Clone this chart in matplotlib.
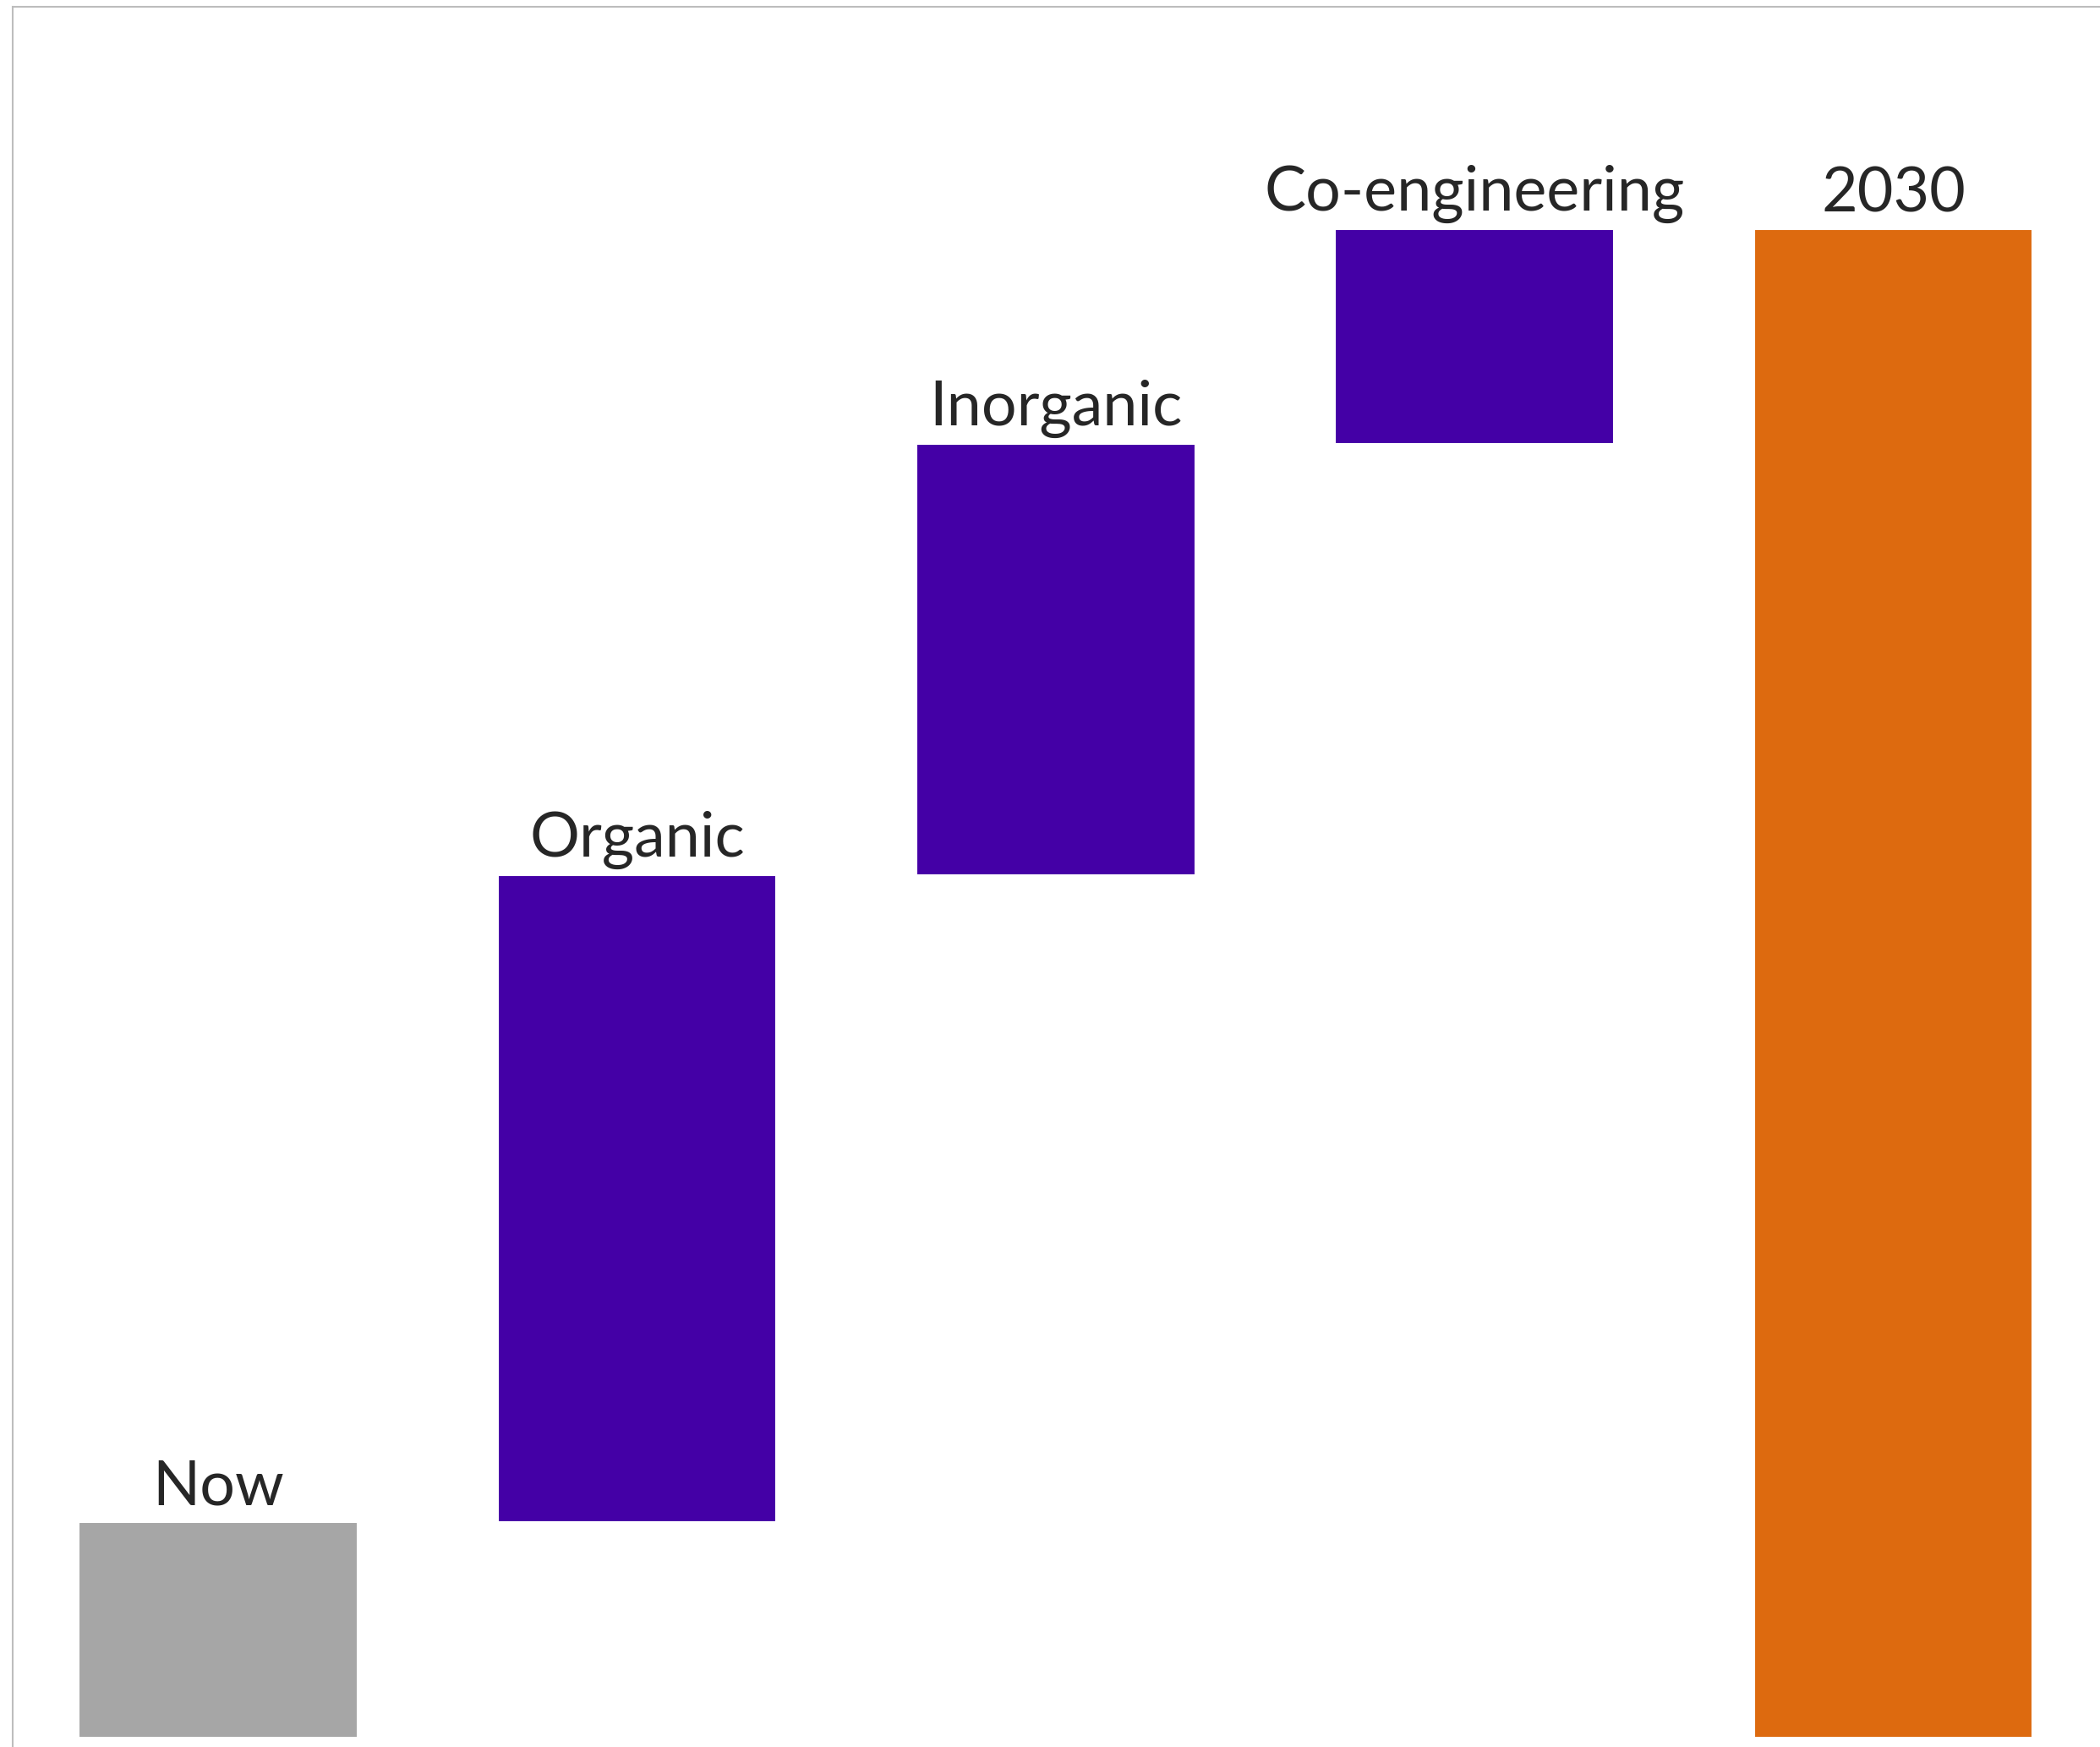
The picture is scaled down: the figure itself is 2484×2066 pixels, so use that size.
import numpy as np
import matplotlib.pyplot as plt

# waterfall data
categories = ['Now', 'Organic', 'Inorganic', 'Co-engineering', '2030']
steps = [1, 3, 2, 1]
total = 7
colors = ['#A6A6A6', '#4400A6', '#4400A6', '#4400A6', '#DD6A0F']

# bottoms / heights for the floating bars
bottoms = [0] + list(np.cumsum(steps)[:-1]) + [0]
heights = steps + [total]

plt.rcParams['font.family'] = ['Lato', 'DejaVu Sans']

fig = plt.figure(figsize=(24.84, 20.66), dpi=100)
ax = fig.add_axes([15.3 / 2484, 0, 2472 / 2484, 2058 / 2066])

x = np.arange(len(categories))
bars = ax.bar(x, heights, bottom=bottoms, width=0.665, color=colors,
              edgecolor='white', linewidth=1.5)

for xi, b, h, name in zip(x, bottoms, heights, categories):
    ax.annotate(name, (xi, b + h), xytext=(0, 5), textcoords='offset points',
                ha='center', va='bottom', fontsize=53, color='#262626')

ax.set_xlim(-0.49, 4.5)
ax.set_ylim(-0.045, 8.03)
ax.set_xticks([])
ax.set_yticks([])
for side in ['right', 'bottom']:
    ax.spines[side].set_visible(False)
for side in ['top', 'left']:
    ax.spines[side].set_color('#BDBDBD')
    ax.spines[side].set_linewidth(1.5)

fig.savefig('out.png', dpi=100)
